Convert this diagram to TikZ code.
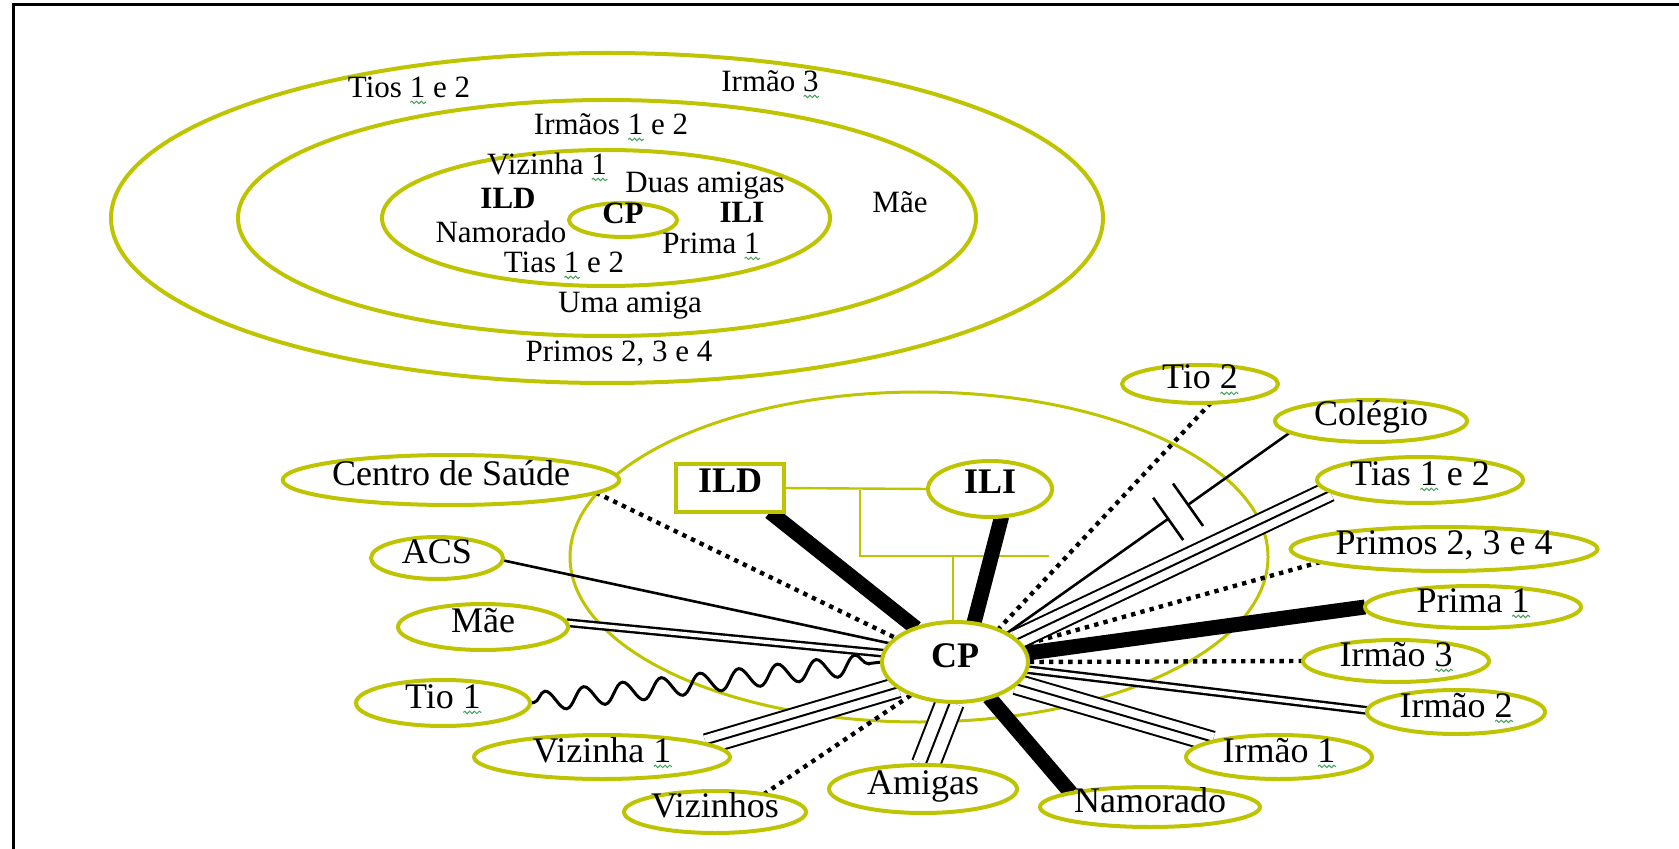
\documentclass[tikz,border=0pt]{standalone}
\usepackage{fontspec}
\setmainfont{Liberation Serif}
\usetikzlibrary{shapes.geometric,decorations.pathmorphing,backgrounds,calc}
\definecolor{ring}{RGB}{190,196,0}
\definecolor{spell}{RGB}{70,160,90}

% a digit marked with a small wavy proofing underline
\newlength\spkw
\newcommand\spk[1]{\settowidth\spkw{#1}\leavevmode\rlap{\smash{\tikz[baseline=0pt]{%
  \draw[spell,line width=0.5pt,decorate,decoration={snake,amplitude=0.6pt,segment length=2.4pt}]
    (0pt,-2.2pt) -- (\spkw,-2.2pt);}}}#1}

\begin{document}
\begin{tikzpicture}[x=0.5pt,y=-0.5pt,
  every node/.style={inner sep=0pt,outer sep=0pt},
  ringline/.style={draw=ring,line width=2pt},
  oval/.style={ellipse,draw=ring,line width=2pt,fill=white,
    font=\fontsize{18}{20}\selectfont,text height=0.7em,text depth=0.2em},
  lab/.style={font=\fontsize{15.5}{17}\selectfont,text height=0.7em,text depth=0.2em},
  blab/.style={lab,font=\bfseries\fontsize{15.5}{17}\selectfont},
  tie/.style={line width=7.5pt},
  plain/.style={line width=1.3pt},
  dbl/.style={line width=1.2pt,double distance=2pt},
  trpl/.style={line width=11pt,postaction={draw,white,line width=9pt},
    postaction={draw,black,line width=1pt}},
  trplw/.style={line width=15pt,postaction={draw,white,line width=13pt},
    postaction={draw,black,line width=1pt}},
  dots/.style={line width=2.2pt,dash pattern=on 2.2pt off 2.6pt},
  wavy/.style={line width=1.5pt,decorate,
    decoration={snake,segment length=19.5pt,amplitude=5pt,pre length=2pt,post length=3pt}},
]
\useasboundingbox (0,0) rectangle (1679,849);

% page frame
\draw[line width=1.5pt] (13,849) -- (13,5) -- (1679,5);

% ---------- concentric map ----------
\draw[ringline] (607,218) ellipse [x radius=496, y radius=165];
\draw[ringline] (607,218) ellipse [x radius=369, y radius=118];
\draw[ringline] (606,218) ellipse [x radius=224, y radius=68];
\draw[ringline] (623,220) ellipse [x radius=54, y radius=17];

\node[lab]  (tTios)   at (409,93)  {Tios \spk{1} e 2};
\node[lab]  (tIrm3)   at (770,87)  {Irmão \spk{3}};
\node[lab]  (tIrm12)  at (611,130) {Irmãos \spk{1} e 2};
\node[lab]  (tViz)    at (547,170) {Vizinha \spk{1}};
\node[lab]  (tDuas)   at (705,188) {Duas amigas};
\node[blab] (tILD)    at (508,204) {ILD};
\node[blab] (tCP)     at (623,219) {CP};
\node[blab] (tILI)    at (742,218) {ILI};
\node[lab]  (tMae)    at (900,208) {Mãe};
\node[lab]  (tNam)    at (501,238) {Namorado};
\node[lab]  (tPrima)  at (711,249) {Prima \spk{1}};
\node[lab]  (tTias)   at (564,268) {Tias \spk{1} e 2};
\node[lab]  (tUma)    at (630,308) {Uma amiga};
\node[lab]  (tPrimos) at (619,357) {Primos 2, 3 e 4};

% ---------- eco-map ----------
\node[oval,minimum width=146pt,minimum height=25pt] (cs)     at (451,480)  {Centro de Saúde};
\node[oval,minimum width=66pt, minimum height=21pt] (acs)    at (437,558)  {ACS};
\node[oval,minimum width=85pt, minimum height=23pt] (mae)    at (483,627)  {Mãe};
\node[oval,minimum width=87pt, minimum height=23pt] (tio1)   at (443,703)  {Tio \spk{1}};
\node[oval,minimum width=128pt,minimum height=22pt] (viz1)   at (602,757)  {Vizinha \spk{1}};
\node[oval,minimum width=91pt, minimum height=21pt] (vizs)   at (715,812)  {Vizinhos};
\node[oval,minimum width=94pt, minimum height=24pt] (amigas) at (923,789)  {Amigas};
\node[oval,minimum width=110pt,minimum height=20pt] (namo)   at (1150,807) {Namorado};
\node[oval,minimum width=93pt, minimum height=22pt] (irm1)   at (1279,757) {Irmão \spk{1}};
\node[oval,minimum width=89pt, minimum height=22pt] (irm2)   at (1456,712) {Irmão \spk{2}};
\node[oval,minimum width=93pt, minimum height=21pt] (irm3)   at (1396,661) {Irmão \spk{3}};
\node[oval,minimum width=108pt,minimum height=21pt] (prima)  at (1473,607) {Prima \spk{1}};
\node[oval,minimum width=134pt,minimum height=22pt] (primos) at (1444,549) {Primos 2, 3 e 4};
\node[oval,minimum width=103pt,minimum height=23pt] (tias)   at (1420,480) {Tias \spk{1} e 2};
\node[oval,minimum width=96pt, minimum height=21pt] (col)    at (1371,421) {Colégio};
\node[oval,minimum width=78pt, minimum height=19pt] (tio2)   at (1200,384) {Tio \spk{2}};
\node[oval,minimum width=62pt, minimum height=28pt,font=\bfseries\fontsize{18}{20}\selectfont] (ili) at (990,489) {ILI};
\node[rectangle,draw=ring,line width=2pt,fill=white,minimum width=54pt,minimum height=24pt,
      font=\bfseries\fontsize{18}{20}\selectfont,text height=0.7em,text depth=0.2em] (ild) at (730,488) {ILD};
\node[oval,minimum width=73pt, minimum height=40pt,font=\bfseries\fontsize{18}{20}\selectfont] (cp) at (955,662) {CP};

\begin{scope}[on background layer]
  % household circle and family lines
  \draw[ring,line width=1.5pt] (919,557) ellipse [x radius=349, y radius=165];
  \coordinate (f1) at (860,490);
  \coordinate (f2) at (860,556);
  \coordinate (f3) at (1049,556);
  \coordinate (f4) at (953,556);
  \draw[ring,line width=1.2pt] (ild.east) -- (ili.west);
  \draw[ring,line width=1.2pt] (f1) -- (f2) -- (f3);
  \draw[ring,line width=1.2pt] (f4) -- (cp.north -| f4);

  % ties to CP
  \draw[dots]  (cs.355)    -- (cp.158);
  \draw[tie]   (ild.-31)   -- (cp.139);
  \draw[plain] (acs.-2)    -- (cp.164);
  \draw[dbl]   (mae.3)     -- (cp.173);
  \draw[wavy]  (tio1.0)    -- (cp.180);
  \draw[trpl]  (viz1.7)    -- (cp.204);
  \draw[dots]  (vizs.20)   -- (cp.217);
  \draw[trplw] (amigas.84) -- (cp.263);
  \draw[tie]   (namo.170)  -- (cp.314);
  \draw[trpl]  (irm1.167)  -- (cp.340);
  \draw[dbl]   (irm2.179)  -- (cp.354);
  \draw[dots]  (irm3.180)  -- (cp.0);
  \draw[tie]   (prima.180) -- (cp.7);
  \draw[dots]  (primos.186)-- (cp.14);
  \draw[trpl]  (tias.187)  -- (cp.20);
  \draw[dots]  (tio2.-60)  -- (cp.37);
  \draw[tie]   (ili.-67)   -- (cp.64);

  % broken tie with the school
  \coordinate (b1) at ($(col.188)!0.36!(cp.29)$);
  \coordinate (b2) at ($(col.188)!0.43!(cp.29)$);
  \draw[plain] (col.188) -- (b1);
  \draw[plain] (b2) -- (cp.29);
  \draw[plain] ($(b1)!13pt!90:(cp.29)$) -- ($(b1)!13pt!-90:(cp.29)$);
  \draw[plain] ($(b2)!13pt!90:(cp.29)$) -- ($(b2)!13pt!-90:(cp.29)$);
\end{scope}
\end{tikzpicture}
\end{document}
